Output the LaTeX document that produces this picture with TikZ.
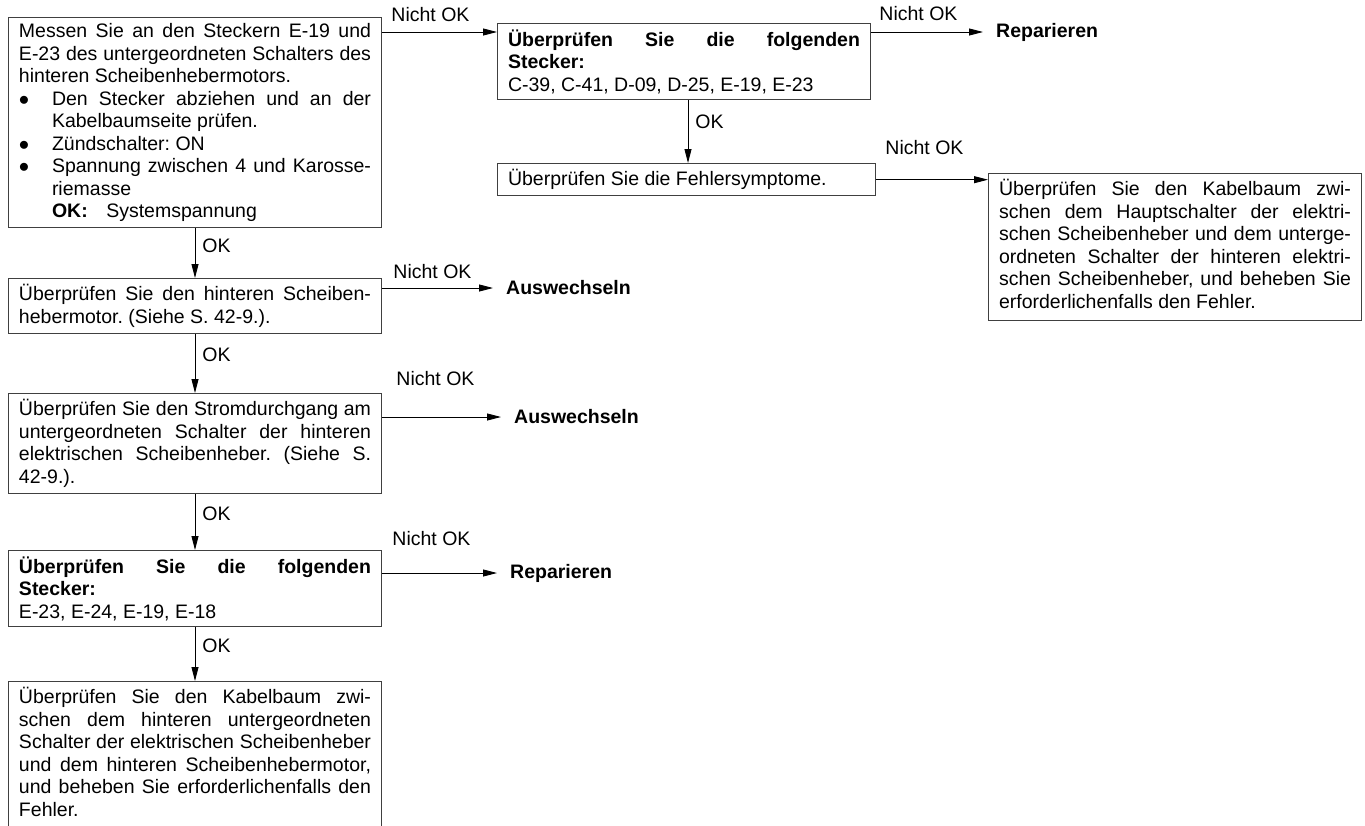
\documentclass[tikz,border=0pt]{standalone}
\usepackage{fontspec}
\setmainfont{Liberation Sans}
\usetikzlibrary{arrows.meta}
\setlength{\parindent}{0pt}
\frenchspacing
\hyphenpenalty=10000
\exhyphenpenalty=10000
\tolerance=10000
\newcommand{\itembul}{\hangindent=33pt\hangafter=1\makebox[33pt][l]{$\bullet$}}

\begin{document}
\begin{tikzpicture}[x=1pt, y=-1pt,
  every node/.style={font=\fontsize{19.5}{22.5}\selectfont},
  box/.style={draw=black!75, line width=1pt, anchor=north west,
              text width=352pt, align=justify,
              inner xsep=10.5pt, inner ysep=6pt},
  res/.style={font=\fontsize{19.5}{22.5}\selectfont\bfseries, anchor=west,
              inner xsep=13pt, inner ysep=0pt},
  lbl/.style={anchor=base west, inner sep=0pt, pos=0},
  ok/.style={anchor=west, inner sep=0pt, pos=0.35, xshift=7pt},
  arr/.style={-{Triangle[length=14pt,width=7pt]}, line width=0.9pt}
]
\useasboundingbox (0,0) rectangle (1365,825);

\node[box] (mess) at (8,17) {%
  Messen Sie an den Steckern E-19 und\linebreak
  E-23 des untergeordneten Schalters des\linebreak
  hinteren Scheibenhebermotors.\par
  \itembul Den Stecker abziehen und an der\linebreak Kabelbaumseite prüfen.\par
  \itembul Zündschalter: ON\par
  \itembul Spannung zwischen 4 und Karosse-\linebreak riemasse\newline
  \textbf{OK:}\hspace{0.95em}Systemspannung\par};
\node[box] (stk1) at (497,23) {%
  \textbf{Überprüfen Sie die folgenden\linebreak Stecker:}\newline
  C-39, C-41, D-09, D-25, E-19, E-23};
\node[box, text width=357pt] (symp) at (497,163) {Überprüfen Sie die Fehlersymptome.};
\node[box, text depth=119pt] (kabh) at (988,173) {%
  Überprüfen Sie den Kabelbaum zwi-\linebreak
  schen dem Hauptschalter der elektri-\linebreak
  schen Scheibenheber und dem unterge-\linebreak
  ordneten Schalter der hinteren elektri-\linebreak
  schen Scheibenheber, und beheben Sie\linebreak
  erforderlichenfalls den Fehler.};
\node[box] (motor) at (8,278) {%
  Überprüfen Sie den hinteren Scheiben-\linebreak
  hebermotor. (Siehe S. 42-9.).};
\node[box] (strom) at (8,393) {%
  Überprüfen Sie den Stromdurchgang am\linebreak
  untergeordneten Schalter der hinteren\linebreak
  elektrischen Scheibenheber. (Siehe S.\linebreak
  42-9.).};
\node[box] (stk2) at (8,550) {%
  \textbf{Überprüfen Sie die folgenden\linebreak Stecker:}\newline
  E-23, E-24, E-19, E-18};
\node[box, text depth=142pt] (kabu) at (8,681) {%
  Überprüfen Sie den Kabelbaum zwi-\linebreak
  schen dem hinteren untergeordneten\linebreak
  Schalter der elektrischen Scheibenheber\linebreak
  und dem hinteren Scheibenhebermotor,\linebreak
  und beheben Sie erforderlichenfalls den\linebreak
  Fehler.};

\node[res] (rep1) at (983,32)  {Reparieren};
\node[res] (aus1) at (493,288) {Auswechseln};
\node[res] (aus2) at (501,417) {Auswechseln};
\node[res] (rep2) at (497,573) {Reparieren};

% Nicht OK
\draw[arr] ([yshift=-15pt]mess.north east) -- ([yshift=-15pt]mess.north east -| stk1.west)
  node[lbl, xshift=9pt, yshift=11pt] {Nicht OK};
\draw[arr] ([yshift=-9pt]stk1.north east) -- (rep1.west)
  node[lbl, xshift=8pt, yshift=12pt] {Nicht OK};
\draw[arr] (symp.east) -- (symp.east -| kabh.west)
  node[lbl, xshift=9pt, yshift=25pt] {Nicht OK};
\draw[arr] ([yshift=-10pt]motor.north east) -- (aus1.west)
  node[lbl, xshift=11pt, yshift=10pt] {Nicht OK};
\draw[arr] ([yshift=-24pt]strom.north east) -- (aus2.west)
  node[lbl, xshift=14pt, yshift=32pt] {Nicht OK};
\draw[arr] ([yshift=-23pt]stk2.north east) -- (rep2.west)
  node[lbl, xshift=10pt, yshift=28pt] {Nicht OK};

% OK
\draw[arr] ([xshift=4pt]stk1.south) -- ([xshift=4pt]stk1.south |- symp.north) node[ok] {OK};
\draw[arr] (mess.south)  -- (motor.north) node[ok] {OK};
\draw[arr] (motor.south) -- (strom.north) node[ok] {OK};
\draw[arr] (strom.south) -- (stk2.north)  node[ok] {OK};
\draw[arr] (stk2.south)  -- (kabu.north)  node[ok] {OK};
\end{tikzpicture}
\end{document}
